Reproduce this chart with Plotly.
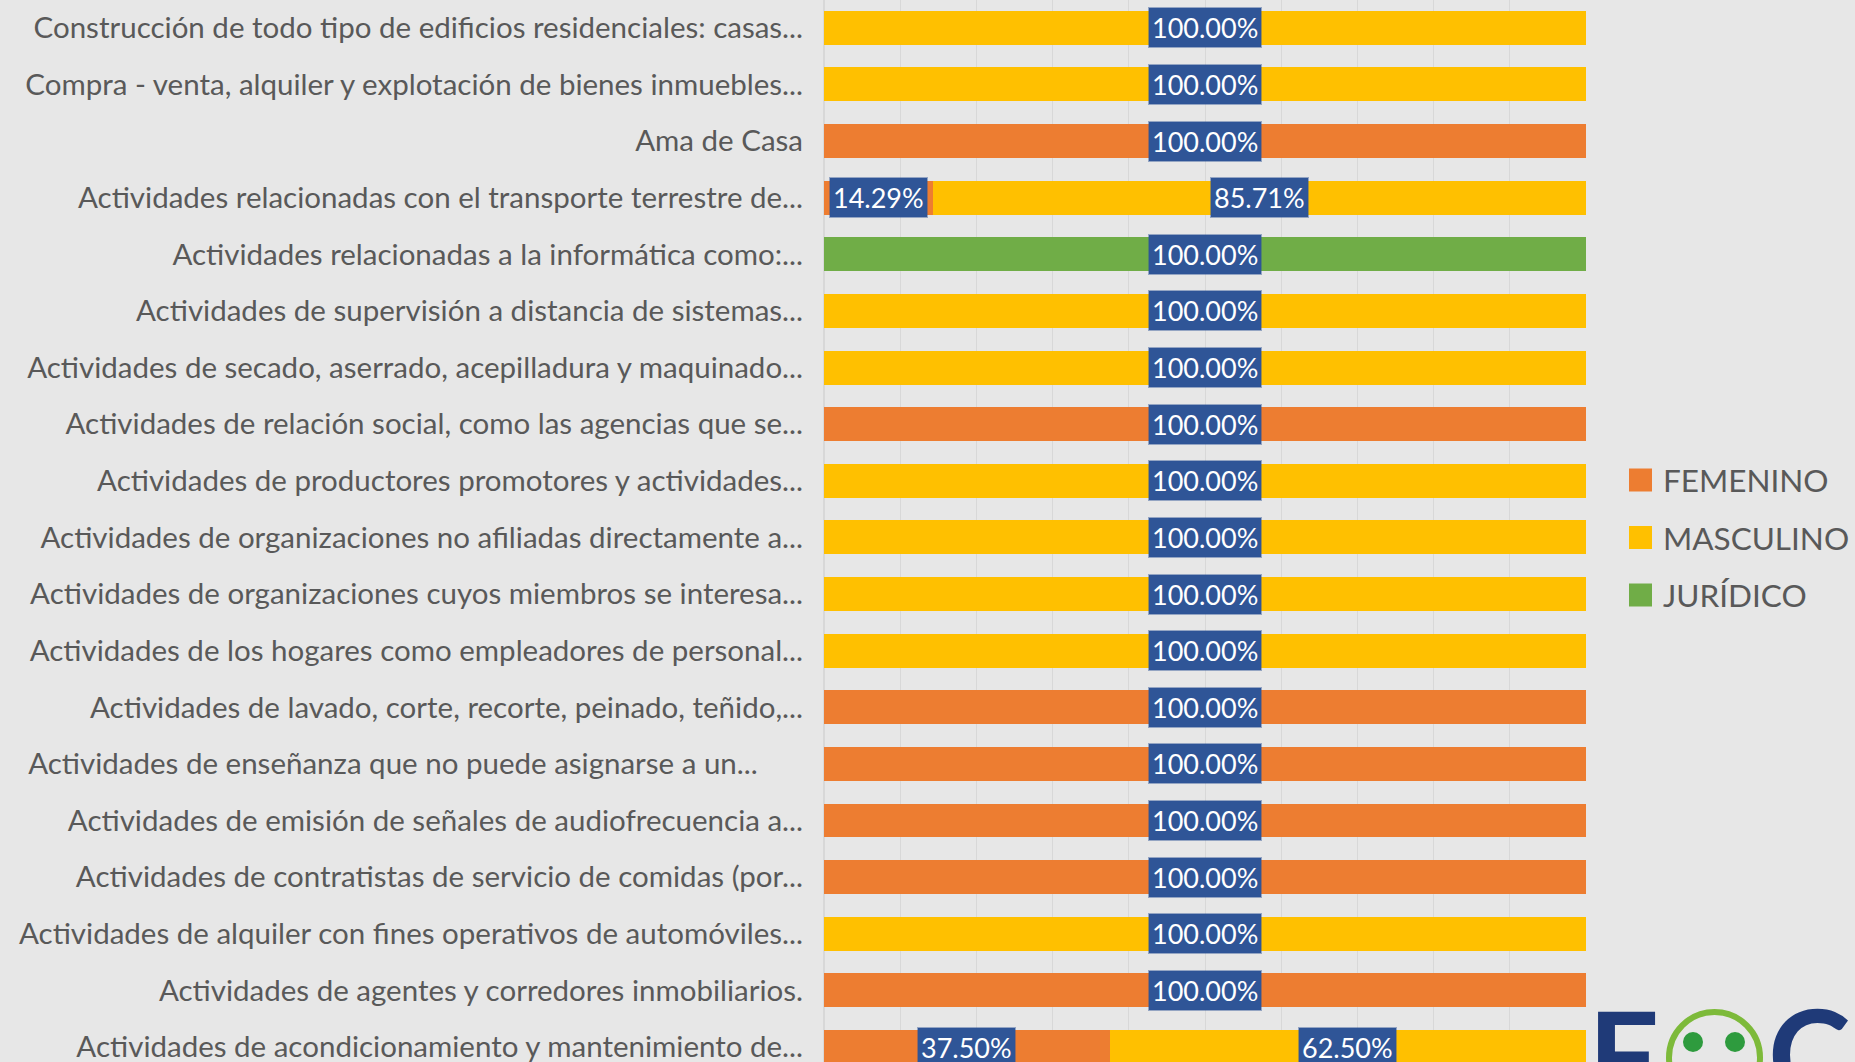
import plotly.graph_objects as go

# categories, top to bottom as in the chart
actividades = [
  "Construcción de todo tipo de edificios residenciales: casas...",
  "Compra - venta, alquiler y explotación de bienes inmuebles...",
  "Ama de Casa",
  "Actividades relacionadas con el transporte terrestre de...",
  "Actividades relacionadas a la informática como:...",
  "Actividades de supervisión a distancia de sistemas...",
  "Actividades de secado, aserrado, acepilladura y maquinado...",
  "Actividades de relación social, como las agencias que se...",
  "Actividades de productores promotores y actividades...",
  "Actividades de organizaciones no afiliadas directamente a...",
  "Actividades de organizaciones cuyos miembros se interesa...",
  "Actividades de los hogares como empleadores de personal...",
  "Actividades de lavado, corte, recorte, peinado, teñido,...",
  "Actividades de enseñanza que no puede asignarse a un...\u00a0\u00a0\u00a0\u00a0\u00a0\u00a0",
  "Actividades de emisión de señales de audiofrecuencia a...",
  "Actividades de contratistas de servicio de comidas (por...",
  "Actividades de alquiler con fines operativos de automóviles...",
  "Actividades de agentes y corredores inmobiliarios.",
  "Actividades de acondicionamiento y mantenimiento de...",
]
femenino  = [0, 0, 100, 14.29, 0, 0, 0, 100, 0, 0, 0, 0, 100, 100, 100, 100, 0, 100, 37.5]
masculino = [100, 100, 0, 85.71, 0, 100, 100, 0, 100, 100, 100, 100, 0, 0, 0, 0, 100, 0, 62.5]
juridico  = [0, 0, 0, 0, 100, 0, 0, 0, 0, 0, 0, 0, 0, 0, 0, 0, 0, 0, 0]

series = [("FEMENINO", femenino, "#ED7D31"),
          ("MASCULINO", masculino, "#FFC000"),
          ("JURÍDICO", juridico, "#70AD47")]

W, H = 1855, 1062
L, R = 824, 269
GRAY = "#595959"
FONT = "Lato"

def px(x):
  return (x - L) / (W - L - R)

def py(y):
  return 1 - y / H

fig = go.Figure()
for name, vals, col in series:
  fig.add_trace(go.Bar(y=actividades, x=vals, name=name, orientation="h",
                       marker=dict(color=col, line=dict(width=0)),
                       width=0.6, showlegend=False, hoverinfo="x+y+name"))

# data labels on each non-empty segment
ann = []
for i, cat in enumerate(actividades):
  start = 0
  for name, vals, col in series:
    v = vals[i]
    if v > 0:
      ann.append(dict(x=start + v / 2, y=cat, xref="x", yref="y", text="%.2f%%" % v,
                      showarrow=False, bgcolor="#2F5597", borderpad=2,
                      bordercolor="rgba(47,85,151,0.45)", borderwidth=2,
                      font=dict(family=FONT, size=27, color="white")))
    start += v

# legend
shapes = []
for k, (name, vals, col) in enumerate(series):
  yc = 480 + k * 57.5
  shapes.append(dict(type="rect", xref="paper", yref="paper",
                     x0=px(1629), x1=px(1652), y0=py(yc - 11.5), y1=py(yc + 11.5),
                     fillcolor=col, line=dict(width=0)))
  ann.append(dict(x=px(1661), y=py(yc), xref="paper", yref="paper", text=name,
                  xanchor="left", yanchor="middle", showarrow=False,
                  font=dict(family=FONT, size=31.5, color=GRAY)))

# logo (partially visible in the corner)
NAVY = "#1F3A78"
ann.append(dict(x=px(1586), y=py(977), xref="paper", yref="paper", text="<b>F</b>",
                xanchor="left", yanchor="top", showarrow=False,
                font=dict(family=FONT, size=125, color=NAVY)))
ann.append(dict(x=px(1766), y=py(975), xref="paper", yref="paper", text="<b>C</b>",
                xanchor="left", yanchor="top", showarrow=False,
                font=dict(family=FONT, size=125, color=NAVY)))
shapes.append(dict(type="circle", xref="paper", yref="paper",
                   x0=px(1669), x1=px(1760), y0=py(1103), y1=py(1012),
                   line=dict(color="#7DBA3A", width=6)))
for cx in (1693, 1735):
  shapes.append(dict(type="circle", xref="paper", yref="paper",
                     x0=px(cx - 10), x1=px(cx + 10), y0=py(1052), y1=py(1032),
                     fillcolor="#2E9B3E", line=dict(width=0)))

fig.update_layout(
  width=W, height=H,
  barmode="stack",
  bargap=0.4,
  paper_bgcolor="#E7E7E7",
  plot_bgcolor="#E7E7E7",
  margin=dict(l=L, r=R, t=0, b=0),
  font=dict(family=FONT, color=GRAY),
  annotations=ann,
  shapes=shapes,
  showlegend=False,
)
fig.update_xaxes(range=[0, 100], dtick=10, showgrid=True, gridcolor="#D8D8D8", gridwidth=1,
                 zeroline=True, zerolinecolor="#D8D8D8", showticklabels=False, fixedrange=True)
fig.update_yaxes(categoryorder="array", categoryarray=actividades, range=[18.265, -0.491],
                 tickfont=dict(family=FONT, size=29.5, color=GRAY), ticklabelstandoff=20,
                 showgrid=False, zeroline=False, fixedrange=True)

fig.write_html("out.html", config={"displayModeBar": False},
               post_script="document.body.style.margin='0px';document.body.style.overflow='hidden';")
